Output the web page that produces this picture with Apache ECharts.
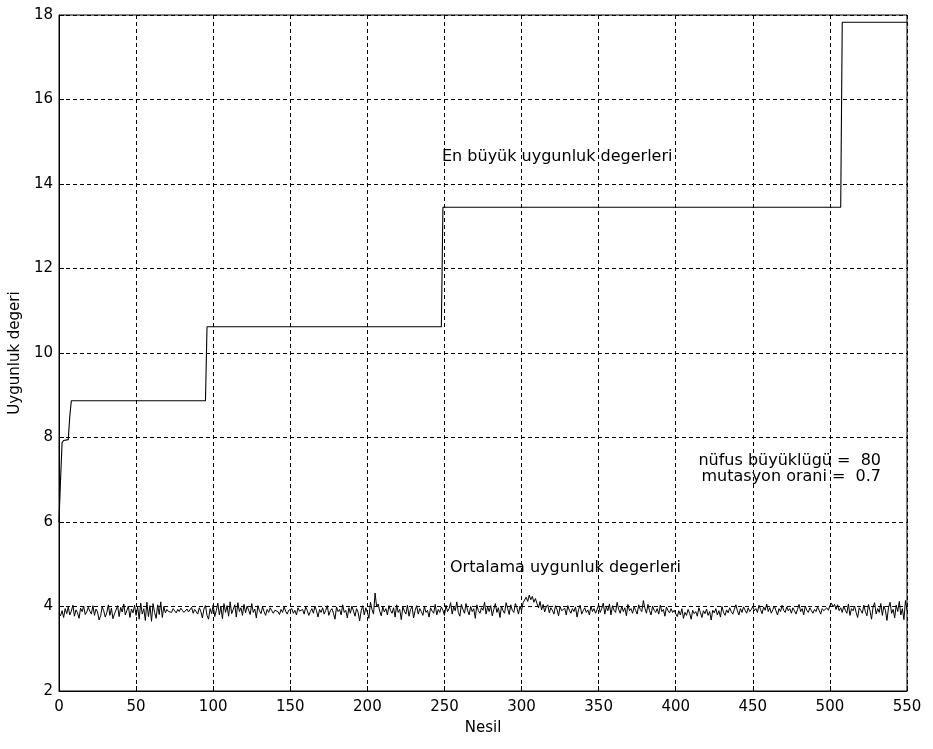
<!DOCTYPE html>
<html>
<head>
<meta charset="utf-8">
<script src="https://cdn.jsdelivr.net/npm/echarts@6/dist/echarts.min.js"></script>
<style>
html,body{margin:0;padding:0;background:#fff;}
#chart{width:933px;height:749px;}
</style>
</head>
<body>
<div id="chart"></div>
<script>
// Best fitness per generation (step points)
const maxGenerations = [0, 1, 2, 3, 6, 7, 8, 95, 96, 248, 249, 507, 508, 550];
const maxValues = [6.0, 7.0, 7.88, 7.93, 7.95, 8.5, 8.87, 8.87, 10.62, 10.62, 13.45, 13.45, 17.83, 17.83];

// Average fitness per generation (index = generation, 0..550)
const avgValues = [
3.84,3.78,3.90,3.74,3.95,3.83,3.99,3.80,3.89,4.03,3.77,3.92,3.85,3.72,3.96,3.88,4.01,3.81,3.87,3.98,3.89,3.82,4.02,3.79,3.94,
3.87,3.68,3.78,3.99,3.90,3.75,3.85,4.04,3.79,3.96,3.71,3.83,3.92,4.02,3.76,3.98,3.87,4.06,3.80,3.90,4.01,3.74,3.94,3.85,4.03,
3.79,3.99,3.70,4.08,3.82,3.95,3.67,4.10,3.76,4.02,3.65,4.07,3.86,3.72,4.04,3.81,4.11,3.74,4.00,3.85,3.93,3.88,3.91,3.86,3.95,
3.90,3.85,3.93,3.88,3.96,3.91,3.86,3.90,3.94,3.87,3.91,3.98,3.84,3.93,3.89,3.82,3.97,3.88,3.73,3.94,4.02,3.79,3.70,3.95,3.83,
4.04,3.76,3.90,4.08,3.80,3.99,3.71,4.07,3.86,4.02,3.77,4.11,3.83,3.93,4.04,3.75,4.09,3.88,3.97,3.79,4.05,3.85,4.01,3.91,3.81,
4.07,3.86,3.94,3.73,4.02,3.90,3.83,3.99,3.88,3.79,3.93,3.86,3.97,3.90,3.84,3.91,3.95,3.88,3.81,3.93,3.86,3.99,3.89,3.82,3.91,
3.88,3.95,3.84,3.91,3.80,3.97,3.89,3.86,3.93,3.82,3.99,3.91,3.79,3.88,3.95,3.84,4.01,3.90,3.75,3.93,3.86,3.97,3.82,3.91,4.02,
3.79,3.90,3.95,3.84,3.70,3.99,3.88,3.93,3.80,4.04,3.86,3.91,3.73,3.97,3.84,4.01,3.89,3.77,3.95,3.86,3.66,3.90,4.02,3.80,3.97,
3.86,3.72,4.10,3.93,3.82,4.32,4.00,4.06,3.89,3.78,3.99,3.87,3.95,3.80,4.02,3.91,3.84,3.97,3.75,4.04,3.86,3.93,3.69,3.99,3.89,
3.82,4.03,3.77,3.93,3.99,3.73,3.91,4.02,3.82,3.95,3.88,3.79,4.00,3.86,3.91,3.75,3.97,3.89,3.84,4.05,3.80,3.93,3.86,3.99,3.91,
3.79,4.03,3.88,3.95,4.09,3.82,3.99,3.90,4.11,3.86,3.77,4.05,3.93,3.84,4.07,3.91,3.80,4.00,3.88,3.95,3.72,4.04,3.90,3.84,3.97,
3.91,4.10,3.82,3.99,3.88,4.02,3.78,3.93,4.07,3.86,3.97,3.74,4.01,3.90,3.84,4.09,3.95,3.81,4.04,3.91,3.86,4.07,3.97,3.82,4.01,
3.90,4.09,4.05,4.22,4.12,4.27,4.16,4.24,4.10,4.19,4.07,3.97,4.12,3.92,4.05,3.87,3.99,4.04,3.85,3.97,3.91,3.82,4.02,3.93,3.78,
4.00,3.90,3.86,3.96,3.80,4.02,3.91,3.84,3.95,3.88,3.99,3.75,3.93,4.03,3.82,3.90,3.97,3.86,3.92,3.80,4.01,3.88,3.95,3.84,3.93,
4.04,3.86,3.95,4.08,3.82,3.99,3.90,4.06,3.80,4.02,3.91,3.86,4.10,3.93,3.84,4.01,3.88,3.97,3.78,4.05,3.90,3.95,3.84,3.99,3.91,
3.82,4.04,3.93,3.88,4.14,3.96,3.84,4.05,3.90,3.80,4.01,3.91,3.86,3.95,3.82,4.03,3.88,3.93,3.77,3.99,3.90,3.85,3.95,3.86,3.91,
3.83,3.76,3.90,3.80,3.95,3.72,3.86,3.79,3.93,3.84,3.70,3.91,3.83,3.88,3.77,3.97,3.86,3.74,3.90,3.83,3.94,3.79,3.88,3.68,3.91,
3.85,3.95,3.80,3.90,3.75,4.00,3.86,3.79,3.92,3.85,3.97,3.88,3.82,3.93,4.04,3.90,3.80,3.95,3.86,3.99,3.91,3.84,3.97,3.88,3.93,
4.00,3.90,3.95,3.86,4.03,3.93,3.83,3.99,3.91,4.06,3.88,3.97,3.84,3.93,4.01,3.90,3.80,3.95,3.88,4.03,3.91,3.86,3.99,3.90,3.95,
3.84,3.97,3.90,3.82,3.93,4.05,3.88,3.95,3.80,4.01,3.91,3.86,3.97,3.90,3.84,3.93,3.88,3.99,3.91,3.82,3.95,3.90,3.86,3.97,3.91,
4.02,4.08,3.99,4.05,3.93,4.04,3.90,3.97,3.86,4.01,3.91,3.84,4.06,3.79,3.95,3.90,4.01,3.86,3.74,3.97,3.91,3.84,4.03,3.88,3.78,
4.05,3.90,3.70,3.99,4.09,3.82,3.95,3.86,4.07,3.79,4.01,3.91,3.67,3.97,4.10,3.84,3.93,3.73,4.03,3.88,4.12,3.80,3.95,3.69,4.14,
3.90
];

const xTicks = { min: 0, max: 550, step: 50 };
const yTicks = { min: 2, max: 18, step: 2 };

const labelMax = 'En büyük uygunluk degerleri';
const labelAvg = 'Ortalama uygunluk degerleri';
const infoLines = ['nüfus büyüklügü =  80', 'mutasyon orani =  0.7'];

const FONT = '"DejaVu Sans", Arial, sans-serif';

const chart = echarts.init(document.getElementById('chart'), null, { renderer: 'canvas' });

const dashed = { show: true, lineStyle: { color: '#000', width: 1, type: [4, 3] } };

chart.setOption({
  animation: false,
  backgroundColor: '#fff',
  grid: { left: 59, right: 26, top: 15, bottom: 58, show: true, borderColor: '#000', borderWidth: 1, backgroundColor: 'transparent' },
  xAxis: [{
    type: 'value', min: xTicks.min, max: xTicks.max, interval: xTicks.step,
    name: 'Nesil', nameLocation: 'middle', nameGap: 30,
    nameTextStyle: { color: '#000', fontSize: 15, fontFamily: FONT },
    axisLine: { show: true, lineStyle: { color: '#000', width: 1 } },
    axisTick: { show: true, inside: true, length: 5, lineStyle: { color: '#000' } },
    axisLabel: { color: '#000', fontSize: 15, fontFamily: FONT, margin: 9 },
    splitLine: dashed
  }],
  yAxis: [{
    type: 'value', min: yTicks.min, max: yTicks.max, interval: yTicks.step,
    name: 'Uygunluk degeri', nameLocation: 'middle', nameGap: 34, nameRotate: 90,
    nameTextStyle: { color: '#000', fontSize: 15, fontFamily: FONT },
    axisLine: { show: true, lineStyle: { color: '#000', width: 1 } },
    axisTick: { show: true, inside: true, length: 5, lineStyle: { color: '#000' } },
    axisLabel: { color: '#000', fontSize: 15, fontFamily: FONT, margin: 6 },
    splitLine: dashed
  }],
  series: [
    {
      type: 'line', name: 'max', showSymbol: false, symbol: 'none',
      lineStyle: { color: '#000', width: 1.1 },
      data: maxGenerations.map((g, i) => [g, maxValues[i]]),
      z: 3
    },
    {
      type: 'line', name: 'avg', showSymbol: false, symbol: 'none',
      lineStyle: { color: '#000', width: 1 },
      data: avgValues.map((v, i) => [i, v]),
      z: 3
    }
  ],
  graphic: [
    { type: 'text', left: 442, top: 149, style: { text: labelMax, fill: '#000', font: '16px ' + FONT } },
    { type: 'text', left: 450, top: 560, style: { text: labelAvg, fill: '#000', font: '16px ' + FONT } },
    { type: 'text', right: 52, top: 453, style: { text: infoLines[0], fill: '#000', font: '16px ' + FONT, align: 'right' } },
    { type: 'text', right: 52, top: 469, style: { text: infoLines[1], fill: '#000', font: '16px ' + FONT, align: 'right' } }
  ]
});
</script>
</body>
</html>
